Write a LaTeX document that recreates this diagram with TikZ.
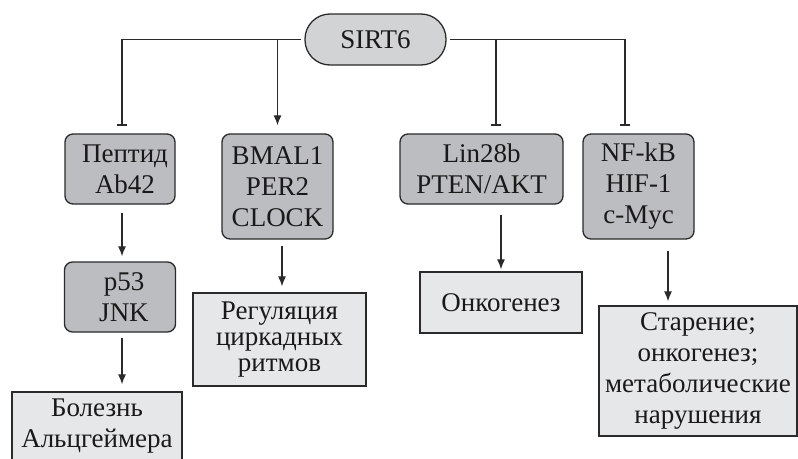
\documentclass[tikz,border=0pt]{standalone}
\usepackage{fontspec}
\setmainfont{Liberation Serif}
\usetikzlibrary{arrows.meta,calc}
\definecolor{gA}{HTML}{D2D3D5}
\definecolor{gB}{HTML}{BCBDC0}
\definecolor{gC}{HTML}{E6E7E8}
\definecolor{ln}{HTML}{2A2A2A}
\begin{document}
\begin{tikzpicture}[x=1pt,y=-1pt,
  box/.style={draw=ln, line width=1.3pt, align=center, inner sep=0pt, text=black!90,
    font=\fontsize{27}{31}\selectfont},
  darkbox/.style={box, fill=gB, rounded corners=8pt},
  lightbox/.style={box, fill=gC},
  act/.style={-{Latex[length=10pt,width=8pt]}, line width=1.2pt, draw=ln},
  inh/.style={-{Bar[width=10pt,line width=2pt]}, line width=1.2pt, draw=ln}
]
\useasboundingbox (0,0) rectangle (798,458);

\node[box, fill=gA, rounded corners=25pt, minimum width=141pt, minimum height=51pt] (sirt) at (375.5,39.5) {SIRT6};

\node[darkbox, minimum width=110pt, minimum height=70pt] (pep) at (120,169) {\hspace*{10pt}Пептид\\\hspace*{10pt}Ab42};
\node[darkbox, minimum width=111pt, minimum height=105pt] (bmal) at (277.5,186.5) {BMAL1\\PER2\\CLOCK};
\node[darkbox, minimum width=163pt, minimum height=70pt] (lin) at (481.5,169) {Lin28b\\PTEN/AKT};
\node[darkbox, minimum width=111pt, minimum height=105pt] (nf) at (638.5,186.5) {NF-kB\\HIF-1\\c-Myc};

\node[darkbox, minimum width=111pt, minimum height=70pt] (p53) at (120,297) {\hspace*{8pt}p53\\\hspace*{8pt}JNK};

\node[lightbox, minimum width=170pt, minimum height=68pt] (alz) at (97,426) {Болезнь\\Альцгеймера};
\node[lightbox, minimum width=173pt, minimum height=93pt, font=\fontsize{27}{26}\selectfont] (reg) at (279.5,339.5) {Регуляция\\циркадных\\ритмов};
\node[lightbox, minimum width=162pt, minimum height=61pt] (onko) at (501,302.5) {Онкогенез};
\node[lightbox, minimum width=198pt, minimum height=130pt] (star) at (698,371) {Старение;\\онкогенез;\\метаболические\\нарушения};

% SIRT6 connectors
\draw[inh, shorten <=3pt, shorten >=7pt] (sirt.west) -| ([xshift=2pt]pep.north);
\draw[act, shorten >=8pt] (bmal.north |- sirt.west) -- (bmal.north);
\draw[inh, shorten >=7pt] ([xshift=14.5pt]lin.north |- sirt.east) -- ([xshift=14.5pt]lin.north);
\draw[inh, shorten <=3pt, shorten >=7pt] (sirt.east) -| ([xshift=-13.5pt]nf.north);

% lower connectors
\draw[act, shorten <=8pt, shorten >=5pt] ([xshift=2pt]pep.south) -- ([xshift=2pt]pep.south |- p53.north);
\draw[act, shorten <=5pt, shorten >=7pt] ([xshift=2pt]p53.south) -- ([xshift=2pt]p53.south |- alz.north);
\draw[act, shorten <=6pt, shorten >=6pt] ([xshift=4.5pt]bmal.south) -- ([xshift=4.5pt]bmal.south |- reg.north);
\draw[act, shorten <=10pt, shorten >=2pt] (onko.north |- lin.south) -- (onko.north);
\draw[act, shorten <=11pt, shorten >=4pt] ([xshift=29.5pt]nf.south) -- ([xshift=29.5pt]nf.south |- star.north);
\end{tikzpicture}
\end{document}
